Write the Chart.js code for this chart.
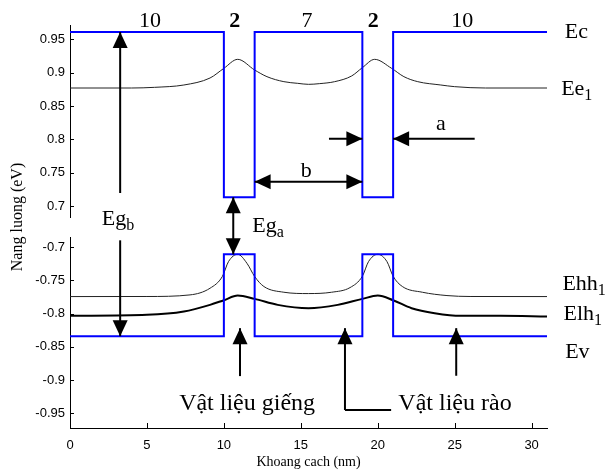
<!DOCTYPE html>
<html>
<head>
<meta charset="utf-8">
<script src="https://cdn.jsdelivr.net/npm/chart.js@4.4.1/dist/chart.umd.min.js"></script>
<style>
  body { margin: 0; background: #fff; }
  canvas { display: block; }
</style>
</head>
<body>
<canvas id="bandChart" width="605" height="475"></canvas>
<script>
// Bờ vùng dẫn / vùng hóa trị (nm, eV)
const ecX = [0, 10, 10, 12, 12, 19, 19, 21, 21, 31];
const ecE = [0.961, 0.961, 0.713, 0.713, 0.961, 0.961, 0.713, 0.713, 0.961, 0.961];
const evX = [0, 10, 10, 12, 12, 19, 19, 21, 21, 31];
const evE = [-0.834, -0.834, -0.711, -0.711, -0.834, -0.834, -0.711, -0.711, -0.834, -0.834];

// Mức năng lượng
const ee1X = [0, 4, 5.5, 7.4, 9.1, 10, 10.9, 12, 12.8, 13.9, 14.8, 15.5, 16.2, 17.2, 18.3, 19, 19.8, 20.9, 21.7, 22.6, 24.1, 25, 27, 31];
const ee1E = [0.877, 0.877, 0.878, 0.8815, 0.892, 0.9065, 0.920, 0.904, 0.894, 0.8865, 0.884, 0.8825, 0.8835, 0.8865, 0.895, 0.9075, 0.920, 0.9065, 0.894, 0.8865, 0.8815, 0.879, 0.877, 0.877];
const ehhX = [0, 5, 7.8, 9.1, 9.9, 10.3, 10.9, 11.5, 12, 12.6, 13.9, 15.5, 17, 18.2, 19, 19.4, 20, 20.6, 21, 21.6, 22.9, 24.5, 26, 31];
const ehhE = [-0.7745, -0.7744, -0.772, -0.762, -0.7444, -0.722, -0.711, -0.7245, -0.7444, -0.7594, -0.768, -0.770, -0.768, -0.761, -0.744, -0.722, -0.711, -0.722, -0.744, -0.7594, -0.768, -0.773, -0.7744, -0.7745];
const elhX = [0, 5, 7.4, 9.1, 10, 10.9, 12, 13.5, 15.5, 17.4, 19, 20, 21, 22.2, 23.7, 25.4, 28, 31];
const elhE = [-0.8035, -0.802, -0.797, -0.787, -0.780, -0.773, -0.778, -0.787, -0.792, -0.787, -0.778, -0.773, -0.780, -0.792, -0.7995, -0.8035, -0.8035, -0.8045];

// Nhãn trục
const xTicks = [0, 5, 10, 15, 20, 25, 30];
const topTicks = [0.7, 0.75, 0.8, 0.85, 0.9, 0.95];
const botTicks = [-0.95, -0.9, -0.85, -0.8, -0.75, -0.7];

function pts(xs, ys) {
    return xs.map((x, i) => ({ x: x, y: ys[i] }));
}

// Chú thích: vị trí theo toạ độ dữ liệu (nm, eV)
const notes = [
    { t: "10", x: 5.2, y: 0.969, ax: "yTop", align: "center" },
    { t: "2", x: 10.7, y: 0.969, ax: "yTop", align: "center", bold: true },
    { t: "7", x: 15.4, y: 0.969, ax: "yTop", align: "center" },
    { t: "2", x: 19.7, y: 0.969, ax: "yTop", align: "center", bold: true },
    { t: "10", x: 25.5, y: 0.969, ax: "yTop", align: "center" },
    { t: "Ec", x: 32.16, y: 0.9515, ax: "yTop" },
    { t: "Ee", sub: "1", x: 31.92, y: 0.8665, ax: "yTop" },
    { t: "a", x: 24.1, y: 0.814, ax: "yTop", align: "center" },
    { t: "b", x: 15.35, y: 0.7435, ax: "yTop", align: "center" },
    { t: "Eg", sub: "b", x: 2.07, y: 0.6715, ax: "yTop" },
    { t: "Eg", sub: "a", x: 11.85, y: 0.6614, ax: "yTop" },
    { t: "Ehh", sub: "1", x: 32.0, y: -0.765, ax: "yBot" },
    { t: "Elh", sub: "1", x: 32.07, y: -0.81, ax: "yBot" },
    { t: "Ev", x: 32.18, y: -0.8674, ax: "yBot" },
    { t: "Vật liệu giếng", x: 11.51, y: -0.945, ax: "yBot", align: "center", size: 24 },
    { t: "Vật liệu rào", x: 25.02, y: -0.945, ax: "yBot", align: "center", size: 24 }
];

// Mũi tên: [x1, y1, trục1, x2, y2, trục2, hai đầu?]
const arrows = [
    [3.26, 0.7195, "yTop", 3.26, 0.961, "yTop", false],
    [3.26, -0.69, "yBot", 3.26, -0.834, "yBot", false],
    [10.61, 0.713, "yTop", 10.61, -0.711, "yBot", true],
    [16.83, 0.801, "yTop", 19, 0.801, "yTop", false],
    [26.3, 0.801, "yTop", 21, 0.801, "yTop", false],
    [12, 0.7364, "yTop", 19, 0.7364, "yTop", true],
    [11.05, -0.894, "yBot", 11.05, -0.822, "yBot", false],
    [17.87, -0.945, "yBot", 17.87, -0.822, "yBot", false],
    [25.1, -0.8935, "yBot", 25.1, -0.822, "yBot", false]
];
const elbow = [20.87, 17.87, -0.945];

function head(ctx, x1, y1, x2, y2) {
    const a = Math.atan2(y2 - y1, x2 - x1);
    const L = 16, W = 7.5;
    ctx.beginPath();
    ctx.moveTo(x2, y2);
    ctx.lineTo(x2 - L * Math.cos(a) + W * Math.sin(a), y2 - L * Math.sin(a) - W * Math.cos(a));
    ctx.lineTo(x2 - L * Math.cos(a) - W * Math.sin(a), y2 - L * Math.sin(a) + W * Math.cos(a));
    ctx.closePath();
    ctx.fill();
}

const annotate = {
    id: "annotate",
    afterDraw(chart) {
        const ctx = chart.ctx;
        const sx = chart.scales.x;
        const area = chart.chartArea;
        ctx.save();
        ctx.strokeStyle = "#000";
        ctx.fillStyle = "#000";
        ctx.lineWidth = 1;

        // vạch chia hướng vào trong
        ["yTop", "yBot"].forEach(id => {
            const s = chart.scales[id];
            s.ticks.forEach(t => {
                const y = Math.round(s.getPixelForValue(t.value)) + 0.5;
                ctx.beginPath();
                ctx.moveTo(area.left, y);
                ctx.lineTo(area.left + 4, y);
                ctx.stroke();
            });
        });
        sx.ticks.forEach(t => {
            const x = Math.round(sx.getPixelForValue(t.value)) + 0.5;
            ctx.beginPath();
            ctx.moveTo(x, area.bottom);
            ctx.lineTo(x, area.bottom - 5);
            ctx.stroke();
        });

        // mũi tên
        ctx.lineWidth = 2;
        arrows.forEach(a => {
            const x1 = sx.getPixelForValue(a[0]), y1 = chart.scales[a[2]].getPixelForValue(a[1]);
            const x2 = sx.getPixelForValue(a[3]), y2 = chart.scales[a[5]].getPixelForValue(a[4]);
            ctx.beginPath();
            ctx.moveTo(x1, y1);
            ctx.lineTo(x2, y2);
            ctx.stroke();
            head(ctx, x1, y1, x2, y2);
            if (a[6]) head(ctx, x2, y2, x1, y1);
        });
        const yb = chart.scales.yBot;
        ctx.beginPath();
        ctx.moveTo(sx.getPixelForValue(elbow[0]), yb.getPixelForValue(elbow[2]));
        ctx.lineTo(sx.getPixelForValue(elbow[1]), yb.getPixelForValue(elbow[2]));
        ctx.stroke();

        // chữ
        ctx.textBaseline = "alphabetic";
        notes.forEach(n => {
            const size = n.size || 22;
            const x = sx.getPixelForValue(n.x);
            const y = chart.scales[n.ax].getPixelForValue(n.y);
            ctx.font = (n.bold ? "bold " : "") + size + 'px "Liberation Serif"';
            ctx.textAlign = n.align || "left";
            ctx.fillText(n.t, x, y);
            if (n.sub) {
                const w = ctx.measureText(n.t).width;
                ctx.font = Math.round(size * 0.72) + 'px "Liberation Serif"';
                ctx.textAlign = "left";
                ctx.fillText(n.sub, x + w, y + 5);
            }
        });

        // tiêu đề trục tung
        ctx.translate(18, 217);
        ctx.rotate(-Math.PI / 2);
        ctx.textAlign = "center";
        ctx.textBaseline = "middle";
        ctx.font = '16px "Liberation Serif"';
        ctx.fillText("Nang luong (eV)", 0, 0);
        ctx.restore();
    }
};

const tickFont = { family: "Liberation Sans", size: 13 };
const yBase = {
    type: "linear",
    position: "left",
    stack: "band",
    grid: { display: false, drawTicks: false },
    border: { display: true, color: "#000", width: 1 },
    ticks: { color: "#000", padding: 5, font: tickFont, callback: v => String(v) },
    afterFit: s => { s.width = 70; }
};

new Chart(document.getElementById("bandChart"), {
    type: "line",
    data: {
        datasets: [
            { label: "Ec", data: pts(ecX, ecE), yAxisID: "yTop", borderColor: "#0000ff", borderWidth: 2, tension: 0 },
            { label: "Ee1", data: pts(ee1X, ee1E), yAxisID: "yTop", borderColor: "#222", borderWidth: 1, cubicInterpolationMode: "monotone" },
            { label: "Ev", data: pts(evX, evE), yAxisID: "yBot", borderColor: "#0000ff", borderWidth: 2, tension: 0 },
            { label: "Ehh1", data: pts(ehhX, ehhE), yAxisID: "yBot", borderColor: "#222", borderWidth: 1, cubicInterpolationMode: "monotone" },
            { label: "Elh1", data: pts(elhX, elhE), yAxisID: "yBot", borderColor: "#000", borderWidth: 2, cubicInterpolationMode: "monotone" }
        ]
    },
    options: {
        responsive: false,
        animation: false,
        elements: { point: { radius: 0 } },
        layout: { padding: { top: 25, right: 58, left: 0, bottom: 0 } },
        plugins: { legend: { display: false }, tooltip: { enabled: false } },
        scales: {
            x: {
                type: "linear",
                min: 0,
                max: 31,
                grid: { display: false, drawTicks: false },
                border: { display: true, color: "#000", width: 1 },
                ticks: { color: "#000", padding: 10, font: tickFont },
                afterBuildTicks: s => { s.ticks = xTicks.map(v => ({ value: v })); },
                afterFit: s => { s.height = 47; },
                title: { display: true, text: "Khoang cach (nm)", color: "#000", font: { family: "Liberation Serif", size: 14 }, padding: { top: 2, bottom: 4 } }
            },
            yTop: Object.assign({}, yBase, {
                min: 0.6835, max: 0.9715, weight: 3, stackWeight: 192,
                afterBuildTicks: s => { s.ticks = topTicks.map(v => ({ value: v })); }
            }),
            yGap: { type: "linear", position: "left", stack: "band", weight: 2, stackWeight: 20, display: false },
            yBot: Object.assign({}, yBase, {
                min: -0.972, max: -0.685, weight: 1, stackWeight: 191,
                afterBuildTicks: s => { s.ticks = botTicks.map(v => ({ value: v })); }
            })
        }
    },
    plugins: [annotate]
});
</script>
</body>
</html>
